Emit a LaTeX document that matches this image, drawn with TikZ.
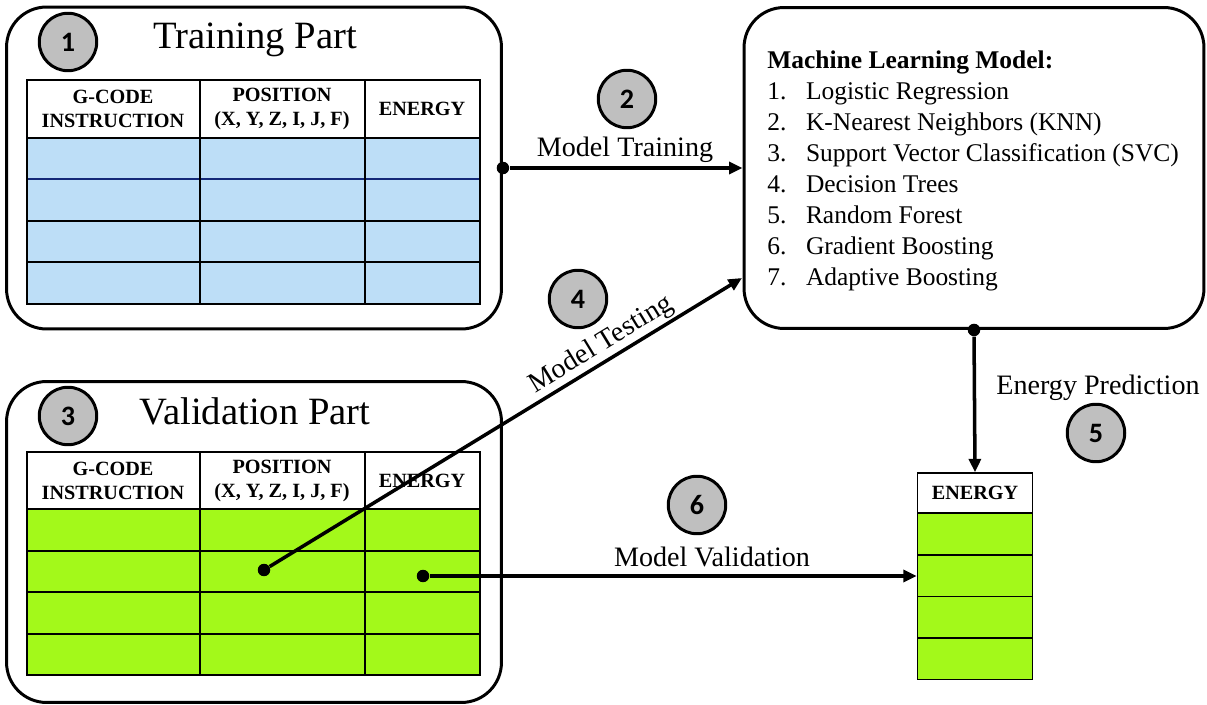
\documentclass[tikz,border=0pt]{standalone}
\usepackage{fontspec}
\setmainfont{Liberation Serif}
\newfontfamily\numfont{Carlito}
\usetikzlibrary{arrows.meta}

\definecolor{trainblue}{RGB}{189,222,247}
\definecolor{validgreen}{RGB}{163,249,26}
\definecolor{rowblue}{RGB}{20,40,120}
\definecolor{stepgray}{RGB}{191,191,191}

\tikzset{
  part/.style={draw, line width=1.7pt, rounded corners=0.8cm},
  stepnum/.style={circle, draw, line width=1.7pt, fill=stepgray, minimum size=1.15cm, inner sep=0pt,
    font=\numfont\bfseries\fontsize{16}{16}\selectfont},
  dot/.style={circle, fill, inner sep=0pt, minimum size=0.25cm},
  flow/.style={line width=2pt, -{Triangle[length=0.27cm,width=0.24cm]}},
  cell/.style={draw, line width=0.8pt},
  head/.style={font=\bfseries\fontsize{11.5}{13.7}\selectfont, align=center},
  lbl/.style={font=\fontsize{16}{18}\selectfont},
  title/.style={font=\fontsize{22}{26}\selectfont},
}

\begin{document}
\begin{tikzpicture}[x=0.02cm, y=-0.02cm]
	\useasboundingbox (0,0) rectangle (1207,705);

	% Training part
	\node[part, minimum width=9.9cm, minimum height=6.44cm] (train) at (254,168) {};
	\node[stepnum] (s1) at (68,42) {1};
	\node[title] (ttitle) at (255,40) {Training Part};
	\fill[trainblue] (27,138) rectangle (480,304);
	\foreach \y in {138,221,262} \draw[cell] (27,\y) -- (480,\y);
	\draw[cell, draw=rowblue] (27,179) -- (480,179);
	\draw[cell] (27,80) rectangle (480,304);
	\foreach \x in {200,365} \draw[cell] (\x,80) -- (\x,304);
	\node[head] (th1) at (113,109) {G-CODE\\INSTRUCTION};
	\node[head] (th2) at (282,109) {POSITION\\(X, Y, Z, I, J, F)};
	\node[head] (th3) at (422,109) {ENERGY};

	% Validation part
	\node[part, minimum width=9.9cm, minimum height=6.42cm] (valid) at (254,542) {};
	\node[stepnum] (s3) at (68,416) {3};
	\node[title] (vtitle) at (255,411) {Validation Part};
	\fill[validgreen] (27,509) rectangle (480,675);
	\foreach \y in {509,551,592,634} \draw[cell] (27,\y) -- (480,\y);
	\draw[cell] (27,452) rectangle (480,675);
	\foreach \x in {200,365} \draw[cell] (\x,452) -- (\x,675);
	\node[head] (vh1) at (113,481) {G-CODE\\INSTRUCTION};
	\node[head] (vh2) at (282,481) {POSITION\\(X, Y, Z, I, J, F)};
	\node[head] (vh3) at (422,481) {ENERGY};

	% Machine learning model
	\node[part, minimum width=9.2cm, minimum height=6.42cm] (ml) at (974,168) {};
	\node[anchor=west, inner sep=0pt, align=left, font=\fontsize{14.5}{17.6}\selectfont] (mlist) at (767,171) {%
		\textbf{Machine Learning Model:}\\
		\makebox[22pt][l]{1.}Logistic Regression\\
		\makebox[22pt][l]{2.}K-Nearest Neighbors (KNN)\\
		\makebox[22pt][l]{3.}Support Vector Classification (SVC)\\
		\makebox[22pt][l]{4.}Decision Trees\\
		\makebox[22pt][l]{5.}Random Forest\\
		\makebox[22pt][l]{6.}Gradient Boosting\\
		\makebox[22pt][l]{7.}Adaptive Boosting};

	% Predicted energy column
	\node[cell, minimum width=2.3cm, minimum height=0.8cm, head] (ehead) at (975,493) {ENERGY};
	\foreach \i/\y in {1/534,2/576,3/617,4/659}
		\node[cell, fill=validgreen, minimum width=2.3cm, minimum height=0.83cm] (er\i) at (975,\y) {};

	% Dots and arrows
	\node[dot] (tdot) at (train.east) {};
	\node[dot] (mdot) at (ml.south) {};
	\node[dot] (pdot) at (264,570) {};
	\node[dot] (edot) at (423,576) {};
	\coordinate (testin) at (742,278);

	\draw[flow] (tdot) -- (ml.west);
	\draw[flow] (pdot) -- node[lbl, sloped, above, pos=0.72, inner sep=1pt] (ltest) {Model Testing} (testin);
	\draw[flow] (mdot) -- (ehead.north);
	\draw[flow] (edot) -- (er2.west);

	% Step labels
	\node[stepnum] (s2) at (627,99) {2};
	\node[lbl] (ltrain) at (625,150) {Model Training};
	\node[stepnum] (s4) at (578,299) {4};
	\node[lbl] (lpred) at (1098,388) {Energy Prediction};
	\node[stepnum] (s5) at (1096,433) {5};
	\node[stepnum] (s6) at (697,505) {6};
	\node[lbl] (lvalid) at (712,557) {Model Validation};
\end{tikzpicture}
\end{document}
